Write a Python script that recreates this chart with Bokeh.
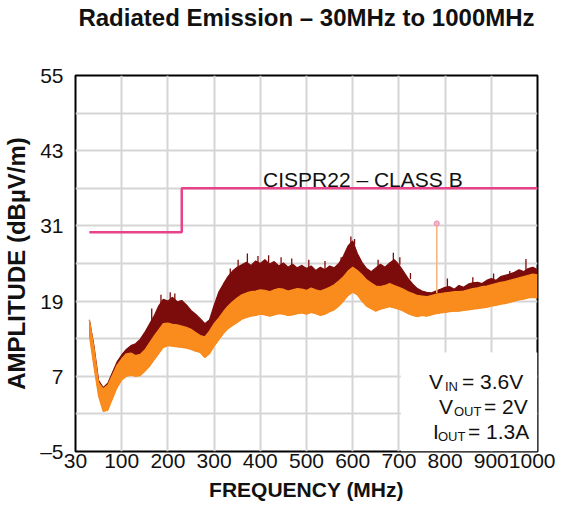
from bokeh.plotting import figure
from bokeh.models import Range1d, FixedTicker, ColumnDataSource, Title
from bokeh.embed import file_html
from bokeh.resources import INLINE
from bokeh.core.properties import value

# ---------------- data ----------------
freq = [30, 40, 50, 60, 70, 80, 90, 100, 110, 120, 130, 140, 150, 160, 170, 180, 190, 200,
        210, 220, 230, 240, 250, 260, 270, 280, 290, 300, 310, 320, 330, 340, 350, 360, 370,
        380, 390, 400, 410, 420, 430, 440, 450, 460, 470, 480, 490, 500, 510, 520, 530, 540,
        550, 560, 570, 580, 590, 600, 610, 620, 630, 640, 650, 660, 670, 680, 690, 700, 710,
        720, 730, 740, 750, 760, 770, 780, 790, 800, 810, 820, 830, 840, 850, 860, 870, 880,
        890, 900, 910, 920, 930, 940, 950, 960, 970, 980, 990, 1000]

# average detector band (orange): lower / upper edge
avg_low = [13.5, 8.5, 3.8, 1.4, 1.6, 3.4, 5.2, 6.4, 7.0, 7.2, 7.0, 7.1, 7.8, 8.6, 9.6, 10.6, 11.6, 11.9,
           11.8, 11.7, 11.6, 11.5, 11.3, 11.0, 10.8, 10.0, 10.6, 11.8, 12.8, 13.8, 14.6, 15.1, 15.6, 16.1, 16.4,
           16.6, 16.7, 16.9, 16.8, 16.6, 16.8, 17.0, 16.9, 16.7, 16.8, 17.0, 17.1, 16.9, 17.2, 17.0, 16.7, 16.9,
           17.3, 17.6, 18.2, 19.0, 19.9, 20.4, 20.0, 19.0, 18.2, 17.8, 17.4, 17.7, 17.9, 18.1, 17.9, 17.7, 17.4,
           17.0, 16.7, 16.5, 16.7, 16.6, 16.8, 17.0, 17.1, 17.2, 17.3, 17.4, 17.4, 17.5, 17.6, 17.7, 17.8, 17.9,
           18.0, 18.2, 18.3, 18.5, 18.6, 18.8, 19.0, 19.2, 19.3, 19.5, 19.6, 19.5]
avg_high = [16.0, 11.5, 6.0, 5.0, 5.6, 7.2, 8.8, 9.8, 10.6, 10.7, 10.3, 10.5, 11.2, 12.3, 13.4, 14.4, 15.4, 15.5,
            15.3, 15.2, 15.0, 14.8, 14.5, 14.0, 13.5, 13.3, 14.2, 15.4, 16.3, 17.3, 18.2, 18.9, 19.5, 20.0, 20.3,
            20.5, 20.6, 20.8, 20.7, 20.5, 20.8, 21.0, 20.9, 20.6, 20.8, 21.0, 20.9, 20.7, 21.1, 20.8, 20.6, 20.9,
            21.2, 21.6, 22.2, 22.9, 23.8, 24.4, 23.9, 23.2, 22.4, 21.9, 21.4, 21.3, 21.5, 21.8, 21.5, 21.2, 20.9,
            20.5, 20.2, 19.9, 19.8, 19.7, 19.9, 20.1, 20.2, 20.3, 20.4, 20.5, 20.5, 20.6, 20.8, 21.0, 21.1, 21.3,
            21.4, 21.6, 21.8, 22.0, 22.1, 22.3, 22.5, 22.7, 22.9, 23.1, 23.3, 23.2]
# peak detector (dark red): upper edge
peak_high = [16.0, 11.8, 6.3, 5.2, 5.9, 7.6, 9.3, 10.4, 11.3, 11.9, 12.2, 12.9, 14.0, 15.3, 16.6, 18.2, 19.3, 19.0,
             19.6, 18.9, 19.1, 18.4, 17.5, 16.9, 16.2, 15.4, 16.0, 18.3, 20.4, 21.7, 22.9, 23.8, 24.4, 24.8, 25.2,
             24.7, 25.4, 25.0, 25.6, 24.9, 25.3, 24.6, 25.1, 24.4, 24.9, 24.3, 24.7, 24.2, 24.6, 23.9, 24.4, 24.0,
             24.6, 24.3, 25.0, 26.2, 27.8, 28.6, 26.6, 25.2, 24.2, 23.7, 24.3, 24.9, 24.4, 25.1, 25.6, 24.8, 23.7,
             22.6, 21.7, 21.0, 20.6, 20.4, 20.3, 20.6, 20.9, 21.2, 21.3, 20.9, 21.5, 21.2, 21.7, 21.9, 22.0, 21.8,
             22.3, 22.6, 22.3, 22.9, 23.1, 23.3, 23.6, 24.0, 23.7, 24.2, 24.4, 24.0]

# isolated peak spikes
spike_freq = [165, 185, 205, 215, 335, 352, 372, 395, 418, 445, 468, 505, 540, 575, 596, 604,
              655, 688, 702, 725, 805, 860, 905, 940, 975]
spike_base = [15.5, 18.5, 19.0, 19.0, 22.5, 24.0, 25.0, 25.0, 25.0, 24.8, 24.6, 24.2, 24.0, 25.0, 28.0, 28.0,
              24.5, 25.0, 24.8, 22.5, 21.2, 21.8, 22.4, 23.2, 23.8]
spike_top = [17.8, 20.0, 20.4, 20.2, 24.2, 25.6, 26.6, 26.2, 26.3, 26.0, 25.8, 25.6, 25.4, 26.0, 29.3, 28.9,
             25.6, 26.7, 26.0, 23.5, 22.6, 22.8, 23.4, 23.8, 25.7]

# CISPR22 class B limit
limit_freq = [30, 230, 230, 1000]
limit_level = [30, 30, 37, 37]

# narrow spurious line near 780 MHz
marker_freq = [782]
marker_low = [20.3]
marker_top = [31.4]

# axes
x_tick_values = [0, 100, 200, 300, 400, 500, 600, 700, 800, 900, 1000]
x_tick_labels = ["30", "100", "200", "300", "400", "500", "600", "700", "800", "900", "1000"]
x_grid_values = [100, 200, 300, 400, 500, 600, 700, 800, 900]
y_tick_values = [-5, 7, 19, 31, 43, 55]
y_tick_labels = ["\u20135", "7", "19", "31", "43", "55"]
y_grid_values = [1, 7, 13, 19, 25, 31, 37, 43, 49]

# conditions text
cond_main = ["V", "= 3.6V", "V", "= 2V", "I", "= 1.3A"]
cond_sub = ["IN", "OUT", "OUT"]

FONT = "Liberation Sans"
ORANGE = "#fa8c1e"
DARK = "#7c0b0b"
PINK = "#e8428b"

p = figure(width=555, height=503, x_range=Range1d(0, 1000), y_range=Range1d(-5, 55),
           output_backend="svg", toolbar_location=None, title=None,
           min_border_left=69, min_border_right=18, min_border_top=10, min_border_bottom=10)

# spacer (closest to the frame) then the visible title
spacer = Title(text=" ", text_font_size="1px", standoff=37)
p.add_layout(spacer, "above")
main_title = Title(text="Radiated Emission \u2013 30MHz to 1000MHz", text_font=FONT,
                   text_font_size="24px", text_font_style="bold", align="center",
                   text_color="#111111", vertical_align="top", standoff=6)
p.add_layout(main_title, "above")

p.background_fill_color = "white"
p.border_fill_color = "white"
p.outline_line_color = "black"
p.outline_line_width = 2

# axes
xa = p.xaxis[0]
xa.ticker = FixedTicker(ticks=x_tick_values)
xa.major_label_overrides = dict(zip(x_tick_values, x_tick_labels))
xa.axis_label = "FREQUENCY (MHz)"
ya = p.yaxis[0]
ya.ticker = FixedTicker(ticks=y_tick_values)
ya.major_label_overrides = dict(zip(y_tick_values, y_tick_labels))
ya.axis_label = "AMPLITUDE (dB\u00b5V/m)"
for ax in (xa, ya):
    ax.axis_line_color = None
    ax.major_tick_line_color = None
    ax.minor_tick_line_color = None
    ax.major_tick_out = 0
    ax.major_tick_in = 0
    ax.minor_tick_out = 0
    ax.minor_tick_in = 0
    ax.major_label_text_font = FONT
    ax.major_label_text_font_size = "21px"
    ax.major_label_text_color = "#111111"
    ax.axis_label_text_font = FONT
    ax.axis_label_text_font_style = "bold"
    ax.axis_label_text_color = "#111111"
xa.major_label_standoff = 2
xa.axis_label_standoff = 7
xa.axis_label_text_font_size = "21px"
ya.major_label_standoff = 12
ya.axis_label_standoff = 7
ya.axis_label_text_font_size = "24px"

p.xgrid[0].ticker = FixedTicker(ticks=x_grid_values)
p.ygrid[0].ticker = FixedTicker(ticks=y_grid_values)
for g in (p.xgrid[0], p.ygrid[0]):
    g.grid_line_color = "#d5d5d5"
    g.grid_line_width = 2

# white box behind the conditions text
p.quad(left=[704], right=[1000], bottom=[-5], top=[10.8], fill_color="white", line_color=None)

# bands
src = ColumnDataSource(dict(f=freq, lo=avg_low, hi=avg_high, pk=peak_high))
p.varea(x="f", y1="lo", y2="pk", source=src, fill_color=DARK)
p.line(x="f", y="pk", source=src, line_color=DARK, line_width=1.2)
p.segment(x0=spike_freq, y0=spike_base, x1=spike_freq, y1=spike_top, line_color=DARK, line_width=1.3)
p.varea(x="f", y1="lo", y2="hi", source=src, fill_color=ORANGE)
p.line(x="f", y="hi", source=src, line_color=ORANGE, line_width=1.2)
p.line(x="f", y="lo", source=src, line_color=ORANGE, line_width=1.2)

# spurious line
p.segment(x0=marker_freq, y0=marker_low, x1=marker_freq, y1=marker_top, line_color="#f6b27c", line_width=1.5)
p.scatter(x=marker_freq, y=marker_top, size=5, fill_color="#f7b8c6", line_color="#e98aa6")

# limit line
p.line(limit_freq, limit_level, line_color=PINK, line_width=2.5)
p.text(x=[406], y=[38.4], text=["CISPR22 \u2013 CLASS B"], text_font=value(FONT),
       text_font_size="21px", text_baseline="alphabetic", text_color="#111111")

# conditions text
main_src = ColumnDataSource(dict(x=[765] * 6, y=[6.2, 6.2, 2.2, 2.2, -1.8, -1.8], t=cond_main,
                                 xo=[0, 33, 10, 55, 4, 39]))
sub_src = ColumnDataSource(dict(x=[765] * 3, y=[6.2, 2.2, -1.8], t=cond_sub, xo=[16, 25, 9]))
p.text(x="x", y="y", text="t", x_offset="xo", source=main_src, text_font=value(FONT),
       text_font_size="21px", text_baseline="alphabetic", text_color="#111111")
p.text(x="x", y="y", text="t", x_offset="xo", y_offset=5, source=sub_src, text_font=value(FONT),
       text_font_size="13px", text_baseline="alphabetic", text_color="#111111")

open("out.html", "w").write(file_html(p, INLINE))
